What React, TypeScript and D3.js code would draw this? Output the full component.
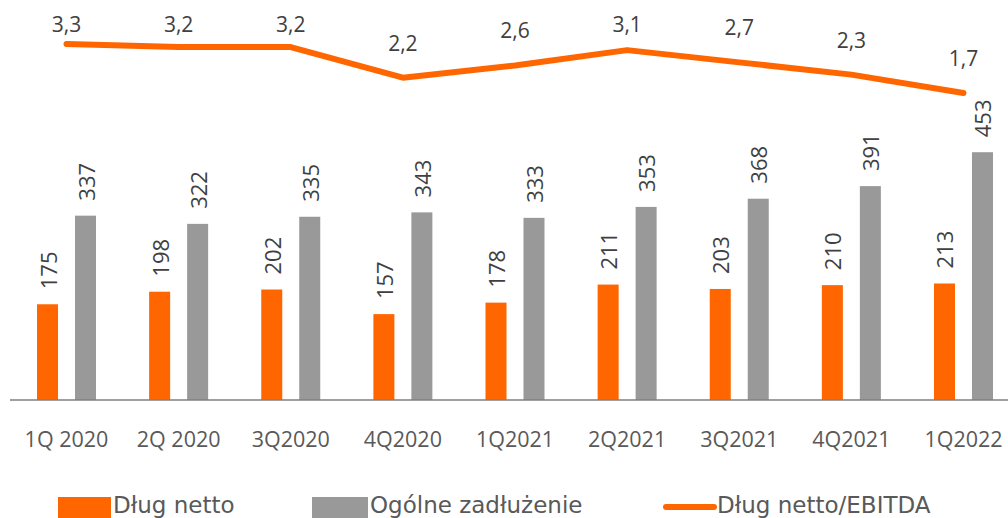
import React from "react";
import * as d3 from "d3";

const categories = ["1Q 2020", "2Q 2020", "3Q2020", "4Q2020", "1Q2021", "2Q2021", "3Q2021", "4Q2021", "1Q2022"];
const netDebt = [175, 198, 202, 157, 178, 211, 203, 210, 213];
const totalDebt = [337, 322, 335, 343, 333, 353, 368, 391, 453];
const ratio = [3.3, 3.2, 3.2, 2.2, 2.6, 3.1, 2.7, 2.3, 1.7];
const legendLabels = ["Dług netto", "Ogólne zadłużenie", "Dług netto/EBITDA"];

const W = 1008;
const H = 518;
const ORANGE = "#FF6600";
const GRAY = "#999999";
const FONT = "'Open Sans', sans-serif";
const WIDE = "'DejaVu Sans', sans-serif";

export default function App() {
  const x0 = d3.scaleBand<string>().domain(categories).range([10.45, 1019.55]).padding(0);
  const keys = ["net", "total"];
  const x1 = d3.scaleBand<string>().domain(keys).range([-29.5, 29.5]).paddingInner(0.447).paddingOuter(0);
  const yBar = d3.scaleLinear().domain([0, 500]).range([400, 126.5]);
  const yLine = d3.scaleLinear().domain([1.7, 3.3]).range([93, 44]);
  const cx = (c: string) => (x0(c) as number) + x0.bandwidth() / 2;
  const line = d3.line<number>().x((_, i) => cx(categories[i])).y((d) => yLine(d));
  const fmt = (v: number) => d3.format(".1f")(v).replace(".", ",");

  const series = [
    { key: "net", values: netDebt, color: ORANGE },
    { key: "total", values: totalDebt, color: GRAY },
  ];

  return (
    <svg width={W} height={H} style={{ position: "absolute", left: 0, top: 0, background: "#fff" }} fontFamily={FONT}>
      {series.map((s) =>
        s.values.map((v, i) => {
          const c = categories[i];
          const bx = cx(c) + (x1(s.key) as number);
          const top = yBar(v);
          return (
            <g key={s.key + i}>
              <rect x={bx} y={top} width={x1.bandwidth()} height={yBar(0) - top} fill={s.color} />
              <text
                transform={`translate(${bx + x1.bandwidth() / 2},${top - 15}) rotate(-90)`}
                textAnchor="start"
                dominantBaseline="central"
                fontSize={22}
                fill="#404040"
              >
                {v}
              </text>
            </g>
          );
        })
      )}
      <line x1={10} x2={W} y1={yBar(0)} y2={yBar(0)} stroke="#7f7f7f" strokeWidth={1.5} />
      {categories.map((c) => (
        <text key={c} x={cx(c)} y={447} textAnchor="middle" fontSize={21.5} fill="#595959" fontFamily={FONT}>
          {c}
        </text>
      ))}
      <path d={line(ratio) || ""} fill="none" stroke={ORANGE} strokeWidth={6} strokeLinecap="round" strokeLinejoin="round" />
      {ratio.map((v, i) => (
        <text key={i} x={cx(categories[i])} y={Math.max(32, yLine(v) - 27)} textAnchor="middle" fontSize={21} fill="#404040">
          {fmt(v)}
        </text>
      ))}
      <g fontSize={23} fill="#595959" fontFamily={WIDE}>
        <rect x={58} y={497} width={53} height={24} fill={ORANGE} />
        <text x={113} y={512.5}>{legendLabels[0]}</text>
        <rect x={312} y={497} width={56} height={24} fill={GRAY} />
        <text x={370} y={512.5}>{legendLabels[1]}</text>
        <line x1={666} x2={714} y1={507} y2={507} stroke={ORANGE} strokeWidth={6} strokeLinecap="round" />
        <text x={717} y={512.5}>{legendLabels[2]}</text>
      </g>
    </svg>
  );
}
